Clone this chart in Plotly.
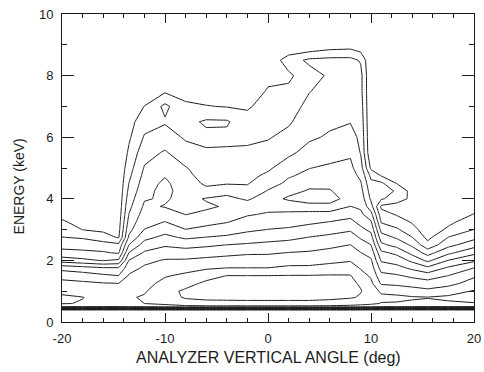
import numpy as np
import plotly.graph_objects as go

# Analyzer vertical angle (deg) of each grid column
angles = [-20, -18, -16, -14.5, -13.5, -12, -10, -8, -6, -4, -2, 0,
          2, 4, 6, 8, 9, 10, 11, 12.5, 14, 15.5, 17.5, 20]
# Energy (keV) of each grid row
energies = [0, 0.38, 0.5, 0.6, 0.8, 1.0, 1.25, 1.5, 1.75, 2.0, 2.25, 2.5, 2.75,
            3.0, 3.25, 3.5, 3.75, 4.0, 4.25, 4.5, 4.75, 5.0, 5.5, 6.0, 6.5,
            7.0, 7.5, 8.0, 8.5, 9.0, 10.0]

# Flux level (log units), one list per angle column
flux_m20 = [0, 0.3, 8.3, 9.05, 9.15, 8.8, 8.3, 7.67, 6.67, 4.5, 3.33, 2.63, 2.02, 1.55, 1.09, 0.8, 0.55, 0.3, 0.25, 0.2, 0.15, 0.1, 0.05, 0, 0, 0, 0, 0, 0, 0, 0]
flux_m18 = [0, 0.3, 8.2, 8.95, 9.02, 8.66, 8.19, 7.5, 6.41, 4.22, 3.23, 2.55, 1.89, 0.98, 0.75, 0.55, 0.4, 0.3, 0.25, 0.2, 0.15, 0.1, 0.05, 0, 0, 0, 0, 0, 0, 0, 0]
flux_m16 = [0, 0.3, 8.1, 8.7, 8.75, 8.45, 8.07, 7.2, 6.13, 3.93, 3.1, 2.45, 1.42, 0.8, 0.6, 0.45, 0.35, 0.3, 0.25, 0.2, 0.15, 0.1, 0.05, 0, 0, 0, 0, 0, 0, 0, 0]
flux_m14_5 = [0, 0.3, 8.0, 8.6, 8.65, 8.36, 8.02, 7.02, 6.11, 4.17, 2.88, 2.25, 0.9, 0.7, 0.55, 0.45, 0.35, 0.3, 0.25, 0.2, 0.15, 0.1, 0.05, 0, 0, 0, 0, 0, 0, 0, 0]
flux_m13_5 = [0, 0.3, 8.2, 8.8, 8.9, 8.68, 8.39, 8.11, 7.63, 7.02, 6.02, 5.02, 4.17, 3.71, 3.36, 3.02, 2.75, 2.5, 2.25, 2.02, 1.79, 1.58, 1.17, 0.85, 0.6, 0.3, 0.1, 0, 0, 0, 0]
flux_m12 = [0, 0.3, 8.3, 9.0, 9.1, 8.9, 8.65, 8.4, 8.15, 7.75, 7.13, 6.43, 5.71, 5.02, 4.72, 4.44, 4.17, 3.92, 3.71, 3.5, 3.29, 3.08, 2.64, 2.09, 1.63, 1.02, 0.4, 0.15, 0.05, 0, 0]
flux_m10 = [0, 0.3, 8.6, 9.2, 9.6, 9.7, 9.31, 8.92, 8.5, 8.08, 7.5, 6.88, 6.25, 5.63, 5.02, 4.4, 3.95, 4.12, 4.3, 4.22, 3.93, 3.6, 3.1, 2.5, 1.89, 2.25, 0.84, 0.3, 0.1, 0, 0]
flux_m8 = [0, 0.3, 8.7, 9.6, 10.1, 10.15, 9.7, 9.2, 8.67, 8.11, 7.43, 6.67, 5.83, 5.02, 4.44, 3.97, 3.82, 3.67, 3.52, 3.36, 3.21, 3.06, 2.43, 1.86, 1.7, 1.14, 0.7, 0.27, 0.1, 0, 0]
flux_m6 = [0, 0.3, 8.8, 9.6, 10.3, 10.5, 10.19, 9.67, 8.88, 8.25, 7.57, 6.83, 6.02, 5.29, 4.7, 4.2, 3.85, 4.08, 3.2, 2.88, 2.69, 2.5, 2.12, 1.75, 2.15, 1.04, 0.52, 0.25, 0.1, 0, 0]
flux_m4 = [0, 0.3, 8.8, 9.6, 10.35, 10.6, 10.3, 10.02, 9.02, 8.38, 7.71, 7.02, 6.17, 5.5, 4.95, 4.7, 4.1, 4.2, 3.75, 2.92, 2.73, 2.54, 2.15, 1.76, 2.12, 0.95, 0.41, 0.2, 0.08, 0, 0]
flux_m2 = [0, 0.3, 8.8, 9.6, 10.4, 10.6, 10.3, 10.02, 9.02, 8.44, 7.86, 7.14, 6.43, 5.82, 5.36, 4.9, 4.4, 3.89, 3.33, 2.93, 2.74, 2.56, 2.19, 1.78, 1.35, 0.88, 0.3, 0.15, 0.05, 0, 0]
flux_0 = [0, 0.3, 8.8, 9.6, 10.4, 10.6, 10.3, 10.02, 9.02, 8.44, 7.88, 7.25, 6.63, 6.02, 5.55, 5.09, 4.73, 4.4, 4.07, 3.64, 3.18, 2.85, 2.35, 1.92, 1.65, 1.38, 1.11, 0.7, 0.25, 0.05, 0]
flux_p2 = [0, 0.3, 8.8, 9.6, 10.4, 10.6, 10.33, 10.05, 9.2, 8.56, 8.02, 7.38, 6.75, 6.13, 5.64, 5.18, 4.6, 3.85, 4.3, 4.18, 3.92, 3.5, 2.8, 2.3, 1.87, 1.53, 1.2, 0.8, 1.5, 0, 0]
flux_p4 = [0, 0.3, 8.8, 9.6, 10.4, 10.6, 10.33, 10.05, 9.2, 8.6, 8.1, 7.56, 7.02, 6.38, 5.82, 5.36, 4.3, 3.6, 3.9, 4.25, 4.19, 3.98, 3.33, 2.86, 2.57, 2.29, 1.95, 1.6, 2.2, 0, 0]
flux_p6 = [0, 0.3, 8.8, 9.5, 10.3, 10.5, 10.29, 10.08, 9.4, 8.73, 8.27, 7.78, 7.22, 6.63, 6.02, 5.38, 4.3, 3.6, 3.9, 4.3, 4.29, 4.13, 3.67, 3.11, 2.84, 2.64, 2.43, 2.15, 2.3, 0.4, 0]
flux_p8 = [0, 0.3, 8.7, 9.4, 10.1, 10.3, 10.18, 10.05, 9.57, 8.91, 8.45, 8.02, 7.44, 6.88, 6.25, 5.7, 5.02, 4.4, 4.73, 4.57, 4.4, 4.23, 3.86, 3.38, 2.96, 2.73, 2.51, 2.29, 2.3, 0.5, 0]
flux_p9 = [0, 0.3, 8.6, 9.3, 9.9, 10.05, 9.9, 9.4, 8.91, 8.45, 8.02, 7.44, 6.88, 6.25, 5.7, 5.2, 4.85, 4.6, 4.35, 4.1, 3.79, 3.43, 2.94, 2.78, 2.62, 2.46, 2.3, 2.3, 1.9, 0.2, 0]
flux_p10 = [0, 0.3, 8.4, 9.2, 9.75, 9.6, 9.23, 8.86, 8.5, 8.14, 7.63, 7.02, 6.38, 5.75, 5.13, 4.33, 3.4, 2.82, 2.53, 2.24, 1.75, 0.8, 0.1, 0.05, 0, 0, 0, 0, 0, 0, 0]
flux_p11 = [0, 0.3, 8.2, 8.95, 9.25, 8.8, 7.88, 7.29, 6.61, 5.87, 5.21, 4.23, 3.43, 2.67, 1.9, 1.38, 0.8, 2.1, 2.4, 2.2, 0.95, 0.2, 0.05, 0, 0, 0, 0, 0, 0, 0, 0]
flux_p12_5 = [0, 0.3, 8.2, 8.95, 9.15, 8.75, 7.75, 7.13, 6.33, 5.57, 4.75, 3.67, 2.86, 2.14, 1.5, 0.9, 0.5, 1.6, 1.9, 0.98, 0.3, 0.1, 0.05, 0, 0, 0, 0, 0, 0, 0, 0]
flux_p14 = [0, 0.3, 8.1, 8.9, 9.07, 8.5, 7.57, 6.8, 5.8, 4.75, 3.67, 2.83, 2.02, 1.38, 0.9, 0.65, 0.4, 0.7, 0.6, 0.3, 0.1, 0.05, 0, 0, 0, 0, 0, 0, 0, 0, 0]
flux_p15_5 = [0, 0.3, 8.1, 8.85, 9.03, 8.25, 7.43, 6.5, 5.25, 3.75, 2.6, 1.33, 0.73, 0.4, 0.3, 0.2, 0.15, 0.1, 0.05, 0.05, 0, 0, 0, 0, 0, 0, 0, 0, 0, 0, 0]
flux_p17_5 = [0, 0.3, 8.1, 8.9, 9.13, 8.67, 7.63, 7.02, 6.17, 5.02, 3.75, 2.71, 2.02, 1.17, 0.78, 0.51, 0.35, 0.25, 0.15, 0.1, 0.05, 0.05, 0, 0, 0, 0, 0, 0, 0, 0, 0]
flux_p20 = [0, 0.3, 8.2, 8.95, 9.3, 9.06, 8.5, 7.83, 7.02, 5.8, 4.75, 3.6, 2.71, 2.02, 1.5, 1.02, 0.75, 0.5, 0.28, 0.2, 0.12, 0.08, 0.03, 0, 0, 0, 0, 0, 0, 0, 0]

# Contour levels drawn
level_start, level_end, level_step = 1, 10, 1

x_tick_values = [-20, -10, 0, 10, 20]
x_tick_labels = ["-20", "-10", "0", "10", "20"]
y_tick_values = [0, 2, 4, 6, 8, 10]
y_tick_labels = ["0", "2", "4", "6", "8", "10"]

columns = [flux_m20, flux_m18, flux_m16, flux_m14_5, flux_m13_5, flux_m12,
           flux_m10, flux_m8, flux_m6, flux_m4, flux_m2, flux_0, flux_p2,
           flux_p4, flux_p6, flux_p8, flux_p9, flux_p10, flux_p11,
           flux_p12_5, flux_p14, flux_p15_5, flux_p17_5, flux_p20]
z = np.array(columns).T

ink = "#1c1c1c"
font_family = "Liberation Sans, Arial, Helvetica, sans-serif"

fig = go.Figure(go.Contour(
    x=angles, y=energies, z=z,
    contours=dict(coloring="none", start=level_start, end=level_end,
                  size=level_step, showlabels=False),
    line=dict(color=ink, width=1, smoothing=0),
    showscale=False, hoverinfo="skip",
))

fig.update_layout(
    width=484, height=372,
    margin=dict(l=62, r=10, t=14, b=50, autoexpand=False),
    paper_bgcolor="white", plot_bgcolor="white",
    font=dict(family=font_family, size=13, color=ink),
    showlegend=False,
)
fig.update_xaxes(
    range=[-20, 20], tickvals=x_tick_values, ticktext=x_tick_labels,
    ticks="inside", ticklen=9, tickwidth=1, tickcolor=ink,
    minor=dict(dtick=2, ticks="inside", ticklen=4, tickwidth=1, tickcolor=ink),
    showline=True, linecolor=ink, linewidth=1, mirror="allticks",
    showgrid=False, zeroline=False, tickfont=dict(size=13),
    ticklabelstandoff=4, ticklabeloverflow="allow", automargin=False,
)
fig.update_yaxes(
    range=[0, 10], tickvals=y_tick_values, ticktext=y_tick_labels,
    ticks="inside", ticklen=12, tickwidth=1, tickcolor=ink,
    minor=dict(dtick=1, ticks="inside", ticklen=5, tickwidth=1, tickcolor=ink),
    showline=True, linecolor=ink, linewidth=1, mirror="allticks",
    showgrid=False, zeroline=False, tickfont=dict(size=13),
    ticklabelstandoff=5, ticklabeloverflow="allow", automargin=False,
)
fig.add_annotation(text="ANALYZER VERTICAL ANGLE (deg)", xref="paper", yref="paper",
                   x=0.5, y=-0.115, xanchor="center", yanchor="middle",
                   showarrow=False, font=dict(size=16, color=ink))
fig.add_annotation(text="ENERGY (keV)", xref="paper", yref="paper",
                   x=-0.102, y=0.44, xanchor="center", yanchor="middle",
                   textangle=-90, showarrow=False, font=dict(size=14, color=ink))

fig.write_html("out.html", config={"displayModeBar": False},
               post_script="document.body.style.margin='0';")
